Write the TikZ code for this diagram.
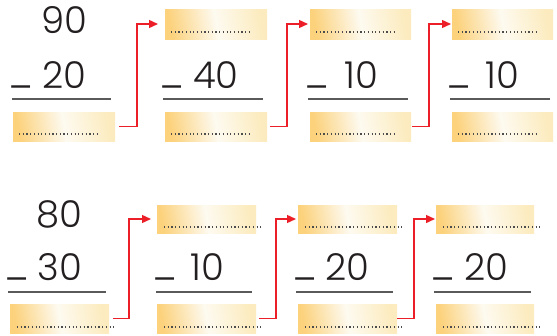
\documentclass[tikz,border=0pt]{standalone}
\usepackage{fontspec}
\setmainfont{Poppins Light}
\usetikzlibrary{arrows.meta,fit,calc}
\definecolor{boxL}{RGB}{252,210,125}
\definecolor{boxM}{RGB}{253,250,240}
\definecolor{boxR}{RGB}{252,235,190}
\definecolor{ink}{RGB}{35,31,32}
\definecolor{rulegray}{RGB}{90,90,90}
\definecolor{arrred}{RGB}{236,30,40}
\tikzset{
  abox/.style={inner sep=0pt, outer sep=0pt, draw=none, left color=boxL, right color=boxR, middle color=boxM, shading angle=100},
  dotline/.style={draw=black!70, line width=1.2pt, dash pattern=on 1.2pt off 2.5pt},
  num/.style={anchor=base, inner sep=0pt, text=ink, font=\fontsize{37}{37}\selectfont},
  minus/.style={anchor=base, inner sep=0pt, text=ink, font=\fontsize{37}{37}\selectfont},
  ruleline/.style={draw=rulegray, line width=1.6pt},
  redarrow/.style={draw=arrred, line width=1.4pt, -{Triangle[length=9pt,width=8pt]}}
}
\begin{document}
\begin{tikzpicture}[x=1pt,y=-1pt]
\useasboundingbox (0,0) rectangle (557,335);
% ---------- top row ----------
\node[abox, fit={(13,112) (115,141)}] (b11) {};
\node[abox, fit={(165,9) (267,39)}] (t12) {};
\node[abox, fit={(165,112) (267,141)}] (b12) {};
\node[abox, fit={(310,9) (411,39)}] (t13) {};
\node[abox, fit={(310,112) (411,141)}] (b13) {};
\node[abox, fit={(452,9) (553,39)}] (t14) {};
\node[abox, fit={(452,112) (553,141)}] (b14) {};
\foreach \b in {b11,t12,b12,t13,b13,t14,b14}{
  \draw[dotline] ([xshift=6pt,yshift=7pt]\b.south west) -- ([xshift=-15pt,yshift=7pt]\b.south east);
}
\node[num] (n90) at (64,33) {90};
\node[num] (n20a) at (64,88) {20};
\node[num] (n40) at (216,88) {40};
\node[num] (n10a) at (361,88) {10};
\node[num] (n10b) at (502.5,88) {10};
\node[minus] (m11) at (20.5,84) {\_};
\node[minus] (m12) at (172,84) {\_};
\node[minus] (m13) at (317,84) {\_};
\node[minus] (m14) at (459,84) {\_};
\draw[ruleline] (12,99) -- (111,99);
\draw[ruleline] (163,99) -- (263,99);
\draw[ruleline] (308,99) -- (408,99);
\draw[ruleline] (450,99) -- (550,99);
\draw[redarrow] ([xshift=4pt]b11.east) -- ++(18,0) |- ([xshift=-7pt]t12.west);
\draw[redarrow] ([xshift=3pt]b12.east) -- ++(17,0) |- ([xshift=-2pt]t13.west);
\draw[redarrow] ([xshift=1pt]b13.east) -- ++(17,0) |- ([xshift=-1pt]t14.west);
% ---------- bottom row ----------
\node[abox, fit={(10,304) (109,333)}] (b21) {};
\node[abox, fit={(157,205) (256,233)}] (t22) {};
\node[abox, fit={(157,304) (256,333)}] (b22) {};
\node[abox, fit={(298,205) (397,233)}] (t23) {};
\node[abox, fit={(298,304) (397,333)}] (b23) {};
\node[abox, fit={(436,205) (534,233)}] (t24) {};
\node[abox, fit={(436,304) (534,333)}] (b24) {};
\foreach \b in {b21,t22,b22,t23,b23,t24,b24}{
  \draw[dotline] ([xshift=7pt,yshift=6pt]\b.south west) -- ([xshift=7pt,yshift=6pt]\b.south east);
}
\node[num] (n80) at (59,227) {80};
\node[num] (n30) at (60,280) {30};
\node[num] (n10c) at (207,280) {10};
\node[num] (n20b) at (347.5,280) {20};
\node[num] (n20c) at (486,280) {20};
\node[minus] (m21) at (17,276) {\_};
\node[minus] (m22) at (164.5,276) {\_};
\node[minus] (m23) at (305,276) {\_};
\node[minus] (m24) at (443,276) {\_};
\draw[ruleline] (8,292) -- (106,292);
\draw[ruleline] (156,292) -- (252,292);
\draw[ruleline] (296,292) -- (393,292);
\draw[ruleline] (434,292) -- (531,292);
\draw[redarrow] ([xshift=4pt]b21.east) -- ++(16,0) |- ([xshift=-6pt]t22.west);
\draw[redarrow] ([xshift=3pt]b22.east) -- ++(17,0) |- ([xshift=-2pt]t23.west);
\draw[redarrow] ([xshift=0pt]b23.east) -- ++(17,0) |- ([xshift=-1pt]t24.west);
\end{tikzpicture}
\end{document}
